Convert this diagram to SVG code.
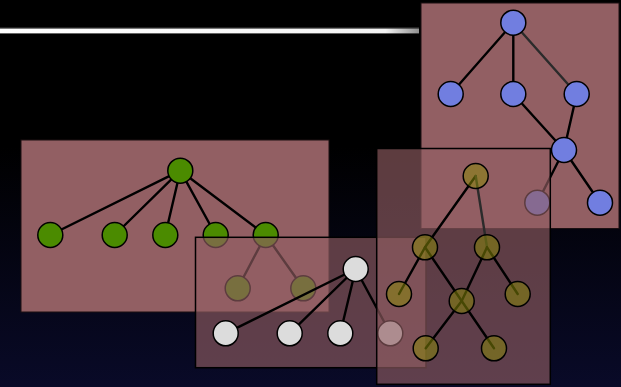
<svg xmlns="http://www.w3.org/2000/svg" width="621" height="387" viewBox="0 0 621 387">
  <defs>
    <linearGradient id="sky" x1="0" y1="0" x2="0" y2="1">
      <stop offset="0" stop-color="#000000"/>
      <stop offset="0.38" stop-color="#000000"/>
      <stop offset="1" stop-color="#090a28"/>
    </linearGradient>
    <linearGradient id="rule" x1="0" y1="0" x2="1" y2="0">
      <stop offset="0" stop-color="#ffffff"/>
      <stop offset="0.92" stop-color="#f4f4f4"/>
      <stop offset="1" stop-color="#8f8f8f"/>
    </linearGradient>
    <style>
      .panel { fill: #925f63; stroke: #1c1012; stroke-width: 1; }
      .veil { fill: #925f63; fill-opacity: 0.635; stroke: #000; stroke-width: 1.5; }
      .edge { stroke: #000; stroke-width: 2.4; stroke-linecap: round; fill: none; }
      .edge.soft { stroke: #2b2b2b; }
      .node { stroke: #000; stroke-width: 1.5; }
      .green { fill: #4b8b00; }
      .white { fill: #dcdcdc; }
      .blue { fill: #717ee0; }
      .olive { fill: #888a08; fill-opacity: 0.52; }
    </style>
  </defs>

  <!-- backdrop and title rule -->
  <rect x="0" y="0" width="621" height="387" fill="url(#sky)"/>
  <line x1="0" y1="28" x2="419" y2="28" stroke="#555" stroke-width="0.8"/>
  <rect x="0" y="28.6" width="419" height="4.8" fill="url(#rule)"/>

  <!-- green tree -->
  <rect id="panel-green" class="panel" x="21" y="140" width="308" height="172"/>
  <g id="edges-green">
    <line class="edge" x1="180.3" y1="170.7" x2="50.3" y2="235"/>
    <line class="edge" x1="180.3" y1="170.7" x2="114.7" y2="235"/>
    <line class="edge" x1="180.3" y1="170.7" x2="165.3" y2="235"/>
    <line class="edge" x1="180.3" y1="170.7" x2="215.7" y2="235"/>
    <line class="edge" x1="180.3" y1="170.7" x2="265.7" y2="235"/>
    <line class="edge" x1="265.7" y1="235" x2="237.7" y2="288.3"/>
    <line class="edge" x1="265.7" y1="235" x2="303.3" y2="288.3"/>
  </g>
  <g id="g-root"><circle class="node green" cx="180.3" cy="170.7" r="12.5"/></g>
  <g id="g-1"><circle class="node green" cx="50.3" cy="235" r="12.5"/></g>
  <g id="g-2"><circle class="node green" cx="114.7" cy="235" r="12.5"/></g>
  <g id="g-3"><circle class="node green" cx="165.3" cy="235" r="12.5"/></g>
  <g id="g-4"><circle class="node green" cx="215.7" cy="235" r="12.5"/></g>
  <g id="g-5"><circle class="node green" cx="265.7" cy="235" r="12.5"/></g>
  <g id="g-6"><circle class="node green" cx="237.7" cy="288.3" r="12.5"/></g>
  <g id="g-7"><circle class="node green" cx="303.3" cy="288.3" r="12.5"/></g>

  <!-- white tree -->
  <rect id="panel-white" class="veil" x="195.5" y="237.3" width="230.5" height="130.4"/>
  <g id="edges-white">
    <line class="edge" x1="355.7" y1="269" x2="225.7" y2="333.3"/>
    <line class="edge" x1="355.7" y1="269" x2="289.7" y2="333.3"/>
    <line class="edge" x1="355.7" y1="269" x2="340.3" y2="333.3"/>
    <line class="edge" x1="355.7" y1="269" x2="390.3" y2="333.3"/>
  </g>
  <g id="w-root"><circle class="node white" cx="355.7" cy="269" r="12.5"/></g>
  <g id="w-1"><circle class="node white" cx="225.7" cy="333.3" r="12.5"/></g>
  <g id="w-2"><circle class="node white" cx="289.7" cy="333.3" r="12.5"/></g>
  <g id="w-3"><circle class="node white" cx="340.3" cy="333.3" r="12.5"/></g>
  <g id="w-4"><circle class="node white" cx="390.3" cy="333.3" r="12.5"/></g>

  <!-- blue tree -->
  <rect id="panel-blue" class="panel" x="421" y="3" width="198" height="225.5"/>
  <g id="edges-blue">
    <line class="edge" x1="513.3" y1="22.7" x2="450.7" y2="94"/>
    <line class="edge" x1="513.3" y1="22.7" x2="513.3" y2="94"/>
    <line class="edge soft" x1="513.3" y1="22.7" x2="576.7" y2="94"/>
    <line class="edge" x1="513.3" y1="94" x2="564" y2="150"/>
    <line class="edge" x1="576.7" y1="94" x2="564" y2="150"/>
    <line class="edge" x1="564" y1="150" x2="600" y2="202.7"/>
    <line class="edge" x1="564" y1="150" x2="537.3" y2="202.7"/>
  </g>
  <g id="b-root"><circle class="node blue" cx="513.3" cy="22.7" r="12.5"/></g>
  <g id="b-1"><circle class="node blue" cx="450.7" cy="94" r="12.5"/></g>
  <g id="b-2"><circle class="node blue" cx="513.3" cy="94" r="12.5"/></g>
  <g id="b-3"><circle class="node blue" cx="576.7" cy="94" r="12.5"/></g>
  <g id="b-4"><circle class="node blue" cx="564" cy="150" r="12.5"/></g>
  <g id="b-5"><circle class="node blue" cx="600" cy="202.7" r="12.5"/></g>
  <g id="b-6"><circle class="node blue" cx="537.3" cy="202.7" r="12.5"/></g>

  <!-- olive tree -->
  <rect id="panel-olive" class="veil" x="376.7" y="148.5" width="173.6" height="235.8"/>
  <g id="edges-olive">
    <line class="edge" x1="475.7" y1="176" x2="425" y2="247.3"/>
    <line class="edge soft" x1="475.7" y1="176" x2="487" y2="247.3"/>
    <line class="edge" x1="425" y1="247.3" x2="399" y2="294"/>
    <line class="edge" x1="425" y1="247.3" x2="461.7" y2="301"/>
    <line class="edge" x1="487" y1="247.3" x2="461.7" y2="301"/>
    <line class="edge" x1="487" y1="247.3" x2="517.7" y2="294"/>
    <line class="edge" x1="461.7" y1="301" x2="425.7" y2="348.3"/>
    <line class="edge" x1="461.7" y1="301" x2="494" y2="348.3"/>
  </g>
  <g id="o-root"><circle class="node olive" cx="475.7" cy="176" r="12.5"/></g>
  <g id="o-1"><circle class="node olive" cx="425" cy="247.3" r="12.5"/></g>
  <g id="o-2"><circle class="node olive" cx="487" cy="247.3" r="12.5"/></g>
  <g id="o-3"><circle class="node olive" cx="399" cy="294" r="12.5"/></g>
  <g id="o-4"><circle class="node olive" cx="461.7" cy="301" r="12.5"/></g>
  <g id="o-5"><circle class="node olive" cx="517.7" cy="294" r="12.5"/></g>
  <g id="o-6"><circle class="node olive" cx="425.7" cy="348.3" r="12.5"/></g>
  <g id="o-7"><circle class="node olive" cx="494" cy="348.3" r="12.5"/></g>
</svg>
